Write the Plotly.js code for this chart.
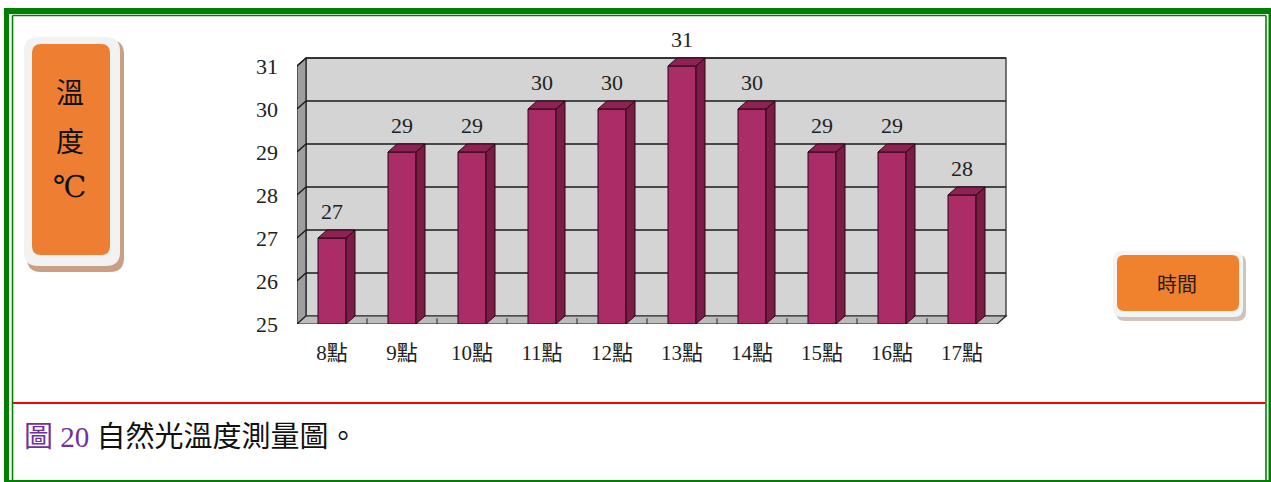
<!DOCTYPE html>
<html>
<head>
<meta charset="utf-8">
<script src="https://cdn.plot.ly/plotly-3.0.1.min.js"></script>
<style>html,body{margin:0;padding:0;background:#fff;}#chart{width:1271px;height:482px;}</style>
</head>
<body>
<div id="chart"></div>
<script>
// ---- data ----
const hours = ['8點','9點','10點','11點','12點','13點','14點','15點','16點','17點'];
const temps = [27, 29, 29, 30, 30, 31, 30, 29, 29, 28];
const yTicks = [25, 26, 27, 28, 29, 30, 31];
const yTitleChars = ['溫', '度', '℃'];
const xTitle = '時間';
const captionLabel = '圖 20';
const captionText = '自然光溫度測量圖。';

// ---- layout helpers ----
const W = 1271, H = 482;
const px = x => x / W;
const py = y => 1 - y / H;
const Y0 = 25, YMAX = 31.4, XMIN = -0.5, XMAX = 9.7;
const plotL = 297, catW = 70, plotB = 324, unitH = 43;
const ddx = 9 / catW, ddy = 8 / unitH;   // 3D depth offset in data units
const bw = 0.2; // half bar width

function rrect(x0, y0, x1, y1, r) {
  const X0 = px(x0), X1 = px(x1), Y0p = py(y0), Y1p = py(y1);
  const rx = r / W, ry = r / H;
  return `M${X0 + rx},${Y0p} L${X1 - rx},${Y0p} Q${X1},${Y0p} ${X1},${Y0p - ry} ` +
         `L${X1},${Y1p + ry} Q${X1},${Y1p} ${X1 - rx},${Y1p} L${X0 + rx},${Y1p} ` +
         `Q${X0},${Y1p} ${X0},${Y1p + ry} L${X0},${Y0p - ry} Q${X0},${Y0p} ${X0 + rx},${Y0p} Z`;
}

const shapes = [];
// green frame
const green = '#008000';
shapes.push({type:'rect', xref:'paper', yref:'paper', x0:px(4), x1:px(9), y0:py(482), y1:py(8), fillcolor:green, line:{width:0}, layer:'below'});
shapes.push({type:'rect', xref:'paper', yref:'paper', x0:px(4), x1:px(1271), y0:py(14), y1:py(8), fillcolor:green, line:{width:0}, layer:'below'});
shapes.push({type:'rect', xref:'paper', yref:'paper', x0:px(1268.5), x1:px(1271), y0:py(482), y1:py(8), fillcolor:green, line:{width:0}, layer:'below'});
shapes.push({type:'line', xref:'paper', yref:'paper', x0:px(12.5), x1:px(12.5), y0:py(482), y1:py(15.5), line:{color:green, width:1.6}, layer:'below'});
shapes.push({type:'line', xref:'paper', yref:'paper', x0:px(12.5), x1:px(1266), y0:py(15.5), y1:py(15.5), line:{color:green, width:1.6}, layer:'below'});
shapes.push({type:'line', xref:'paper', yref:'paper', x0:px(1266), x1:px(1266), y0:py(482), y1:py(15.5), line:{color:green, width:1.6}, layer:'below'});
shapes.push({type:'line', xref:'paper', yref:'paper', x0:px(4), x1:px(1271), y0:py(481), y1:py(481), line:{color:green, width:2}, layer:'below'});
// red separator
shapes.push({type:'line', xref:'paper', yref:'paper', x0:px(13), x1:px(1265), y0:py(403), y1:py(403), line:{color:'#ff0000', width:2.2}, layer:'below'});

// y title box
shapes.push({type:'path', xref:'paper', yref:'paper', path:rrect(27, 40, 124, 272, 14), fillcolor:'#c9a083', line:{width:0}, layer:'below'});
shapes.push({type:'path', xref:'paper', yref:'paper', path:rrect(24, 37, 120, 266, 14), fillcolor:'#f2f2f2', line:{width:0}, layer:'below'});
shapes.push({type:'path', xref:'paper', yref:'paper', path:rrect(32, 44, 110, 255, 9), fillcolor:'#ee7f32', line:{width:0}, layer:'below'});
// x title box
shapes.push({type:'path', xref:'paper', yref:'paper', path:rrect(1116, 254, 1246, 321, 9), fillcolor:'#cfc4bc', line:{width:0}, layer:'below'});
shapes.push({type:'path', xref:'paper', yref:'paper', path:rrect(1113, 251, 1243, 317, 9), fillcolor:'#f4f4f4', line:{width:0}, layer:'below'});
shapes.push({type:'path', xref:'paper', yref:'paper', path:rrect(1117, 255, 1239, 311, 7), fillcolor:'#f0822e', line:{width:0}, layer:'below'});

// 3D walls
const nCat = hours.length;
const xL = XMIN, xR = nCat - 0.5;
const yT = yTicks[yTicks.length - 1];
// back wall
shapes.push({type:'rect', xref:'x', yref:'y', x0:xL + ddx, x1:xR + ddx, y0:Y0 + ddy, y1:yT + ddy,
  fillcolor:'#d4d4d4', line:{color:'#222', width:1.2}, layer:'below'});
// left wall
shapes.push({type:'path', xref:'x', yref:'y',
  path:`M${xL},${Y0} L${xL + ddx},${Y0 + ddy} L${xL + ddx},${yT + ddy} L${xL},${yT} Z`,
  fillcolor:'#9e9e9e', line:{color:'#222', width:1.2}, layer:'below'});
// floor
shapes.push({type:'path', xref:'x', yref:'y',
  path:`M${xL},${Y0} L${xR},${Y0} L${xR + ddx},${Y0 + ddy} L${xL + ddx},${Y0 + ddy} Z`,
  fillcolor:'#bcbcbc', line:{color:'#222', width:1.2}, layer:'below'});
// gridlines
yTicks.forEach(v => {
  if (v === Y0) return;
  shapes.push({type:'line', xref:'x', yref:'y', x0:xL + ddx, x1:xR + ddx, y0:v + ddy, y1:v + ddy, line:{color:'#1a1a1a', width:1.6}, layer:'below'});
  shapes.push({type:'line', xref:'x', yref:'y', x0:xL, x1:xL + ddx, y0:v, y1:v + ddy, line:{color:'#1a1a1a', width:1.4}, layer:'below'});
});
// floor tick marks
for (let i = 0; i < nCat - 1; i++) {
  shapes.push({type:'line', xref:'x', yref:'y', x0:i + 0.5, x1:i + 0.5, y0:Y0, y1:Y0 + ddy * 0.7, line:{color:'#222', width:1}, layer:'below'});
}
// bar 3D faces
temps.forEach((v, i) => {
  shapes.push({type:'path', xref:'x', yref:'y',
    path:`M${i + bw},${Y0} L${i + bw},${v} L${i + bw + ddx},${v + ddy} L${i + bw + ddx},${Y0 + ddy} Z`,
    fillcolor:'#7a1c45', line:{color:'#2a0616', width:1}, layer:'above'});
  shapes.push({type:'path', xref:'x', yref:'y',
    path:`M${i - bw},${v} L${i + bw},${v} L${i + bw + ddx},${v + ddy} L${i - bw + ddx},${v + ddy} Z`,
    fillcolor:'#8e2353', line:{color:'#2a0616', width:1}, layer:'above'});
});

// annotations
const serif = 'Liberation Serif, Noto Sans CJK TC, serif';
const annotations = temps.map((v, i) => ({
  x: hours[i], y: v, xref:'x', yref:'y', text: String(v), showarrow:false,
  yanchor:'middle', yshift:27, font:{family:serif, size:22, color:'#222'}
}));
const ycy = [91, 140, 187];
yTitleChars.forEach((c, k) => {
  annotations.push({x:px(70), y:py(ycy[k]), xref:'paper', yref:'paper', text:c, showarrow:false,
    xanchor:'center', yanchor:'middle',
    font:{family: k === 2 ? 'Liberation Serif, DejaVu Serif, serif' : 'Noto Sans CJK TC', size: k === 2 ? 30 : 28, color:'#111'}});
});
annotations.push({x:px(1177), y:py(283), xref:'paper', yref:'paper', text:xTitle, showarrow:false,
  xanchor:'center', yanchor:'middle', font:{family:'Noto Sans CJK TC', size:20, color:'#2a1c10'}});
annotations.push({x:px(22), y:py(437), xref:'paper', yref:'paper', showarrow:false, xanchor:'left', yanchor:'middle',
  text:`<span style="color:#7030a0">${captionLabel}</span> ${captionText}`,
  font:{family:serif, size:29, color:'#111'}});

const trace = {
  type:'bar', x:hours, y:temps.map(v => v - Y0), base:Y0, width:0.4,
  marker:{color:'#aa2d67', line:{color:'#2a0616', width:1}},
  hoverinfo:'skip'
};

const layout = {
  width:W, height:H, margin:{l:0, r:0, t:0, b:0},
  paper_bgcolor:'#ffffff', plot_bgcolor:'rgba(0,0,0,0)',
  showlegend:false,
  xaxis:{type:'category', range:[XMIN, XMAX],
    domain:[px(plotL), px(plotL + (XMAX - XMIN) * catW)],
    showgrid:false, zeroline:false, showline:false, ticks:'',
    tickfont:{family:serif, size:21, color:'#222'}, ticklabelstandoff:14},
  yaxis:{range:[Y0, YMAX], domain:[py(plotB), py(plotB - (YMAX - Y0) * unitH)],
    tickvals:yTicks, showgrid:false, zeroline:false, showline:false, ticks:'',
    tickfont:{family:serif, size:22, color:'#222'}, ticklabelstandoff:18},
  shapes:shapes, annotations:annotations
};

Plotly.newPlot('chart', [trace], layout, {staticPlot:true, displayModeBar:false});
</script>
</body>
</html>
